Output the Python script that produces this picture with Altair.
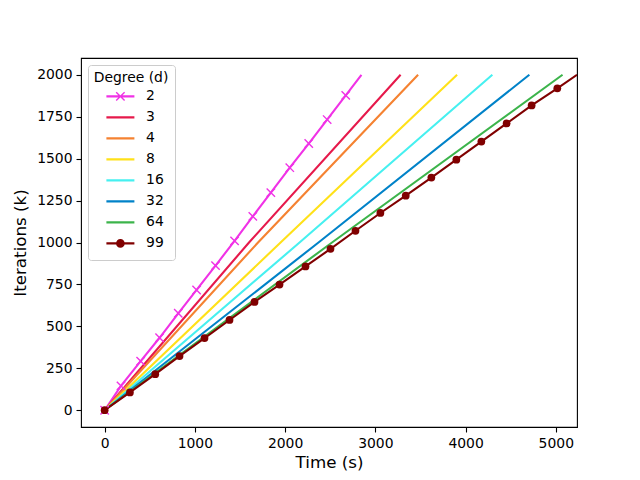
import math
import altair as alt
import pandas as pd

# ---- data ----
degrees = ["2", "3", "4", "8", "16", "32", "64", "99"]
colors = ["#f032e6", "#e6194b", "#f58231", "#ffe119", "#46f0f0", "#0082c8", "#3cb44b", "#800000"]

t_2 = [0, 181, 399, 609, 816, 1019, 1229, 1440, 1642, 1842, 2052, 2262, 2466, 2672, 2846]
k_2 = [0, 145, 293, 432, 578, 717, 862, 1010, 1156, 1297, 1446, 1590, 1733, 1877, 2000]
t_3 = [0, 1600, 3280]
k_3 = [0, 1000, 2000]
t_4 = [0, 1700, 3474]
k_4 = [0, 1000, 2000]
t_8 = [0, 1950, 3906]
k_8 = [0, 1000, 2000]
t_16 = [0, 2160, 4297]
k_16 = [0, 1000, 2000]
t_32 = [0, 2370, 4707]
k_32 = [0, 1000, 2000]
t_64 = [0, 2520, 5075]
k_64 = [0, 1000, 2000]
t_99 = [0, 280, 561, 830, 1107, 1384, 1661, 1938, 2226, 2503, 2780, 3056, 3337,
        3621, 3898, 4175, 4455, 4732, 5017, 5235]
k_99 = [0, 106, 215, 323, 430, 538, 646, 749, 857, 962, 1070, 1176, 1279,
        1387, 1494, 1602, 1710, 1817, 1919, 2000]

x_ticks = [0, 1000, 2000, 3000, 4000, 5000]
y_ticks = [0, 250, 500, 750, 1000, 1250, 1500, 1750, 2000]

series = {"2": (t_2, k_2), "3": (t_3, k_3), "4": (t_4, k_4), "8": (t_8, k_8),
          "16": (t_16, k_16), "32": (t_32, k_32), "64": (t_64, k_64), "99": (t_99, k_99)}

rows = []
for order, d in enumerate(degrees):
    ts, ks = series[d]
    for i, (t, k) in enumerate(zip(ts, ks)):
        rows.append({"degree": d, "order": order, "idx": i, "t": t, "k": k})
df = pd.DataFrame(rows)

# ---- legend symbol paths (unit coords, width 2 units) ----
def rect(x0, y0, x1, y1):
    return f"M{x0},{y0}V{y1}H{x1}V{y0}Z"

def xcross(h, w):
    d = w / math.sqrt(2)
    a = f"M{-h - d:.4f},{-h + d:.4f}L{h - d:.4f},{h + d:.4f}L{h + d:.4f},{h - d:.4f}L{-h + d:.4f},{-h - d:.4f}Z"
    b = f"M{-h + d:.4f},{h + d:.4f}L{h + d:.4f},{-h + d:.4f}L{h - d:.4f},{-h - d:.4f}L{-h - d:.4f},{h - d:.4f}Z"
    return a + b

def circ(r):
    return f"M{r},0A{r},{r} 0 1,0 {-r},0A{r},{r} 0 1,0 {r},0Z"

line_path = rect(-1, -0.075, 1, 0.075)
leg_shapes = [line_path + xcross(0.3, 0.05)] + [line_path] * 6 + [line_path + circ(0.31)]

xs = alt.Scale(domain=[-262, 5235], nice=False, zero=False)
ys = alt.Scale(domain=[-100, 2100], nice=False, zero=False)

x_axis = alt.Axis(values=x_ticks, format="d", title="Time (s)", grid=False, domain=False,
                  tickColor="black", tickSize=5, tickWidth=1.1, labelColor="black",
                  labelFontSize=13.9, labelPadding=4, titleFontSize=16.7,
                  titleFontWeight="normal", titleColor="black", titlePadding=5)
y_axis = alt.Axis(values=y_ticks, format="d", title="Iterations (k)", grid=False, domain=False,
                  tickColor="black", tickSize=5, tickWidth=1.1, labelColor="black",
                  labelFontSize=13.9, labelPadding=4, titleFontSize=16.7,
                  titleFontWeight="normal", titleColor="black", titlePadding=7)

base = alt.Chart(df)

lines = base.mark_line(strokeWidth=2.1, clip=True).encode(
    x=alt.X("t:Q", scale=xs, axis=x_axis),
    y=alt.Y("k:Q", scale=ys, axis=y_axis),
    stroke=alt.Stroke("order:O", scale=alt.Scale(domain=list(range(len(degrees))), range=colors),
                      legend=None),
    detail="degree:N",
    order="idx:Q",
)

marks2 = base.transform_filter(
    (alt.datum.degree == "2") & (alt.datum.k < 2000)
).mark_point(shape="M-1,-1L1,1M-1,1L1,-1", size=70, filled=False, strokeWidth=1.4,
             opacity=1, color=colors[0]).encode(
    x=alt.X("t:Q", scale=xs),
    y=alt.Y("k:Q", scale=ys),
)

marks99 = base.transform_filter(
    (alt.datum.degree == "99") & (alt.datum.k < 2000)
).mark_point(shape="circle", size=60, filled=True, opacity=1, strokeWidth=0,
             color=colors[7]).encode(
    x=alt.X("t:Q", scale=xs),
    y=alt.Y("k:Q", scale=ys),
)

leg = alt.Legend(title="Degree (d)", orient="top-left", offset=7, padding=6,
                 fillColor="white", strokeColor="#cccccc", cornerRadius=3,
                 titleFontSize=13.9, titleFontWeight="normal", titleColor="black",
                 titleAnchor="middle", titlePadding=1,
                 labelFontSize=13.9, labelColor="black", labelOffset=11.7,
                 symbolSize=784, symbolStrokeWidth=0, symbolOpacity=1,
                 symbolOffset=7.4, clipHeight=21, rowPadding=0)

provider = base.transform_filter(alt.datum.k == 0).mark_point(
    filled=True, opacity=0, size=10).encode(
    x=alt.X("t:Q", scale=xs),
    y=alt.Y("k:Q", scale=ys),
    color=alt.Color("degree:N", scale=alt.Scale(domain=degrees, range=colors), legend=leg),
    shape=alt.Shape("degree:N", scale=alt.Scale(domain=degrees, range=leg_shapes), legend=leg),
)

chart = alt.layer(lines, marks2, marks99, provider).properties(
    width=496, height=369,
    autosize=alt.AutoSizeParams(type="none"),
    padding={"left": 73, "top": 50, "right": 40, "bottom": 50},
).configure(font="DejaVu Sans").configure_view(stroke="black", strokeWidth=1.1)

chart.save("out.html", embed_options={"renderer": "svg", "actions": False})
